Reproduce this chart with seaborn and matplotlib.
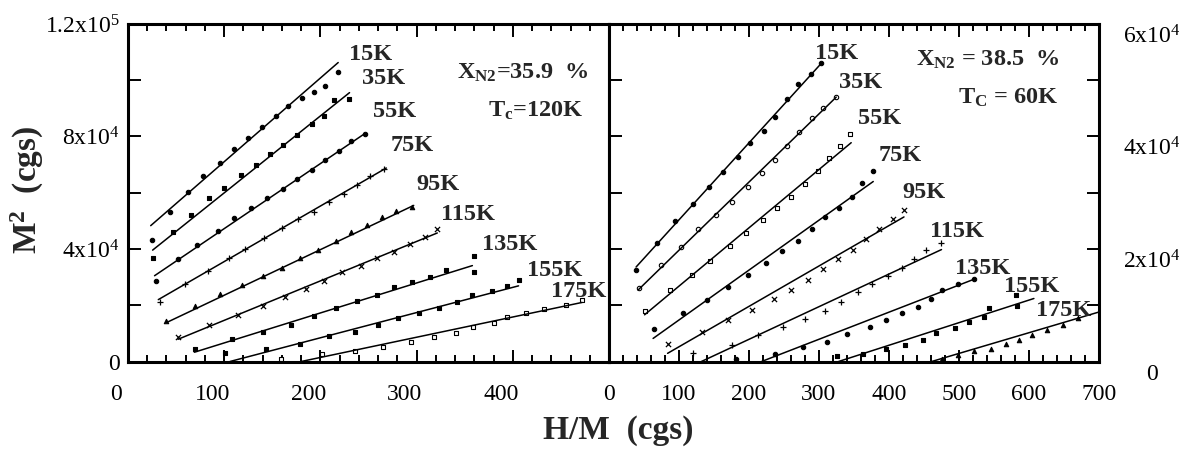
import matplotlib
matplotlib.use("Agg")
import matplotlib.pyplot as plt
import matplotlib.transforms as mtransforms
from matplotlib.ticker import FixedLocator, MultipleLocator
import seaborn as sns

# Temperatures of the isotherms (same set in both panels)
temps = ["15K", "35K", "55K", "75K", "95K", "115K", "135K", "155K", "175K"]

# Left panel, x_N2 = 35.9 %  -> H/M (cgs), M^2 (cgs)
left_x = [
    [24.8, 43.3, 62.2, 78, 95.3, 110, 124.8, 139.8, 153.5, 166, 181, 193, 204.7, 218.5],
    [25.6, 46.5, 65.7, 83.9, 100, 117, 132.7, 147.6, 161, 176, 191, 203.5, 214.6, 229.5],
    [29.5, 52, 72, 93.3, 110, 128, 144.5, 161, 176, 191, 205, 219, 231.5, 246],
    [33.5, 59, 82.7, 105, 122, 141.7, 160.6, 177, 193.7, 209.4, 224.4, 238, 252, 265.7],
    [40, 70, 95.7, 118, 140, 160.6, 179, 197.6, 215.7, 231.5, 248, 263.8, 278.7, 295],
    [52, 84.6, 114, 140, 163, 185, 204, 222.8, 242, 259, 276.5, 292.7, 309, 321.5],
    [70, 108, 140, 169, 193, 216, 238, 259, 276.5, 295.6, 313.6, 330.3, 359.7, 359.7],
    [101, 143, 179, 209, 235.6, 260, 281, 303, 323, 342, 357.6, 378, 394, 406.4],
    [159, 202, 236, 265, 294, 318, 340.6, 358.6, 380.5, 394, 413.7, 432.4, 455, 472],
]
left_y = [
    [43200, 53100, 60200, 66000, 70700, 75600, 79400, 83300, 87200, 91000, 93700, 95900, 98100, 103000],
    [36900, 46200, 52100, 58100, 61600, 66400, 70000, 73900, 77100, 80700, 84500, 87200, 92800, 93500],
    [28600, 36400, 41600, 46400, 50900, 54500, 58100, 61400, 65000, 68200, 71800, 74700, 78500, 80900],
    [21200, 27400, 32100, 36700, 40000, 43800, 47400, 50700, 53300, 56600, 59500, 62800, 65800, 68500],
    [14300, 19800, 23900, 27200, 30500, 33100, 36700, 39600, 42800, 46200, 48600, 51200, 53600, 55100],
    [8600, 13100, 16400, 19800, 23000, 25700, 28800, 31700, 34100, 36800, 39100, 41800, 44300, 47100],
    [4300, 7900, 10500, 12900, 16200, 19000, 21600, 23700, 26400, 28200, 30200, 32600, 32000, 37600],
    [3100, 4300, 6300, 9100, 10600, 13000, 15400, 17200, 19000, 21000, 23700, 25200, 26900, 29000],
    [900, 2700, 3800, 5300, 7100, 8700, 10300, 12100, 13800, 15900, 17400, 18800, 20100, 21900],
]
left_fit_x = [[23.6, 218.5], [25.6, 230.3], [27.6, 246], [31.5, 268.5], [41, 297],
              [52, 321.5], [69, 358], [106, 406], [180, 472]]
left_fit_y = [[48300, 106300], [39600, 95600], [30500, 81000], [22000, 68800], [14000, 55500],
              [7900, 45700], [3300, 34100], [0, 26900], [0, 21000]]

# Right panel, x_N2 = 38.5 %
right_x = [
    [38.7, 68.4, 94.9, 119.5, 143, 163.5, 183.7, 202, 221, 237.5, 254, 270.5, 288.6, 303.5],
    [42.6, 74.5, 103, 127.7, 152.4, 176, 198, 218.4, 237.6, 254, 272, 289.7, 306, 324.6],
    [51.9, 86.5, 118.4, 144, 172.6, 196.3, 220, 240, 260.6, 279.3, 298, 314.5, 330, 344.6],
    [64.5, 105.7, 140, 170.5, 198, 224, 247, 269.4, 289.7, 309, 328, 347, 362, 377.5],
    [83.7, 133, 170.5, 204.7, 235, 259.7, 284, 305.6, 327, 348.6, 367.7, 385.5, 406, 421.8],
    [120, 175, 213, 249, 280, 308, 332, 355, 376, 398, 419, 436, 453, 474.5],
    [181.6, 236.5, 277, 312, 340.5, 372.6, 395, 418, 441, 460, 475.5, 498.3, 522],
    [326, 363, 395, 422.8, 449, 466.8, 494.5, 513.6, 535, 543, 583, 581.5],
    [475.4, 498.3, 522, 546, 567, 585.4, 604.5, 626, 648.5, 670.5],
]
right_y = [
    [16200, 21000, 25000, 28000, 31000, 33600, 36400, 38800, 41000, 43500, 46600, 49400, 51100, 53000],
    [13000, 17200, 20400, 23500, 26000, 28400, 31100, 33500, 35800, 38300, 40800, 43200, 45000, 47000],
    [9000, 12700, 15400, 17900, 20500, 22800, 25200, 27200, 29300, 31600, 33800, 36100, 38300, 40400],
    [5700, 8600, 10900, 13300, 15400, 17500, 19600, 21500, 23500, 25600, 27200, 29300, 31700, 33800],
    [3100, 5300, 7300, 9200, 11100, 12800, 14500, 16400, 18300, 19900, 21700, 23500, 25300, 26900],
    [1600, 2900, 4700, 6200, 7500, 8900, 10600, 12400, 13700, 15200, 16600, 18300, 19900, 21100],
    [400, 1400, 2600, 3500, 4900, 6100, 7300, 8600, 9700, 11200, 12800, 13800, 14600],
    [900, 1300, 2200, 2900, 3800, 5000, 5900, 7100, 8000, 9600, 9900, 11800],
    [400, 1150, 1900, 2300, 3100, 3900, 4700, 5600, 6500, 7700],
]
right_fit_x = [[38.7, 304], [41.5, 324.6], [50.8, 346], [63, 377.5], [83.7, 421.4],
               [132, 475], [218, 523], [328, 607], [461, 700]]
right_fit_y = [[16800, 53100], [12700, 47000], [8300, 38900], [4100, 32000], [1450, 25700],
               [0, 19900], [0, 14700], [0, 11200], [0, 8800]]

# Where the temperature labels sit (data coordinates)
left_lab_x = [252, 266, 277.6, 295, 322, 353.5, 397, 443, 468]
left_lab_y = [109000, 100700, 89000, 76900, 63000, 52400, 41600, 32400, 24800]
right_lab_x = [325, 359.5, 387, 416, 450.6, 496.7, 534, 604, 649.5]
right_lab_y = [54800, 49600, 43200, 36700, 30000, 23100, 16600, 13300, 9150]

left_markers = ["o", "s", "o", "+", "^", "x", "s", "s", "s"]
left_filled = [True, True, True, True, True, True, True, True, False]
right_markers = ["o", "o", "s", "o", "x", "+", "o", "s", "^"]
right_filled = [True, False, False, True, True, True, True, True, True]

sns.set_theme(style="ticks")
plt.rcParams["font.family"] = ["Liberation Serif", "DejaVu Serif"]
plt.rcParams["mathtext.fontset"] = "custom"
plt.rcParams["mathtext.rm"] = "Liberation Serif"
plt.rcParams["mathtext.bf"] = "Liberation Serif:bold"
plt.rcParams["mathtext.it"] = "Liberation Serif:italic"

W, H = 1189, 451
fig = plt.figure(figsize=(W / 100, H / 100), dpi=100)
ax1 = fig.add_axes([128 / W, 1 - 361.5 / H, 481 / W, 337.5 / H])
ax2 = fig.add_axes([609 / W, 1 - 361.5 / H, 490 / W, 337.5 / H])


def draw_panel(ax, xs, ys, fx, fy, markers, filled):
    for i in range(len(xs)):
        sns.lineplot(x=fx[i], y=fy[i], color="black", lw=1.1, sort=False,
                     estimator=None, ax=ax)
        m = markers[i]
        if m in ("x", "+"):
            sns.scatterplot(x=xs[i], y=ys[i], marker=m, s=14, color="black",
                            linewidth=0.9, ax=ax)
        else:
            sns.scatterplot(x=xs[i], y=ys[i], marker=m, s=10,
                            facecolor="black" if filled[i] else "white",
                            edgecolor="black", linewidth=0.8, ax=ax)


draw_panel(ax1, left_x, left_y, left_fit_x, left_fit_y, left_markers, left_filled)
draw_panel(ax2, right_x, right_y, right_fit_x, right_fit_y, right_markers, right_filled)

for i, t in enumerate(temps):
    ax1.text(left_lab_x[i], left_lab_y[i], t, fontsize=17.5, fontweight="bold",
             ha="center", va="center", clip_on=False)
    ax2.text(right_lab_x[i], right_lab_y[i], t, fontsize=17.5, fontweight="bold",
             ha="center", va="center", clip_on=False)

ax1.text(342, 102700, r"X$_{\mathbf{N2}}$=35.9  %", fontsize=17.5, fontweight="bold",
         ha="left", va="center")
ax1.text(374, 89000, r"T$_{\mathbf{c}}$=120K", fontsize=17.5, fontweight="bold",
         ha="left", va="center")
ax2.text(438, 53600, r"X$_{\mathbf{N2}}$ = 38.5  %", fontsize=17.5, fontweight="bold",
         ha="left", va="center")
ax2.text(498.5, 46800, r"T$_{\mathbf{C}}$ = 60K", fontsize=17.5, fontweight="bold",
         ha="left", va="center")

# axes, ticks
ax1.set_xlim(0, 500)
ax1.set_ylim(0, 1.2e5)
ax2.set_xlim(0, 700)
ax2.set_ylim(0, 6e4)

ax1.xaxis.set_major_locator(FixedLocator([0, 100, 200, 300, 400]))
ax1.xaxis.set_minor_locator(MultipleLocator(20))
ax1.yaxis.set_major_locator(FixedLocator([0, 4e4, 8e4, 1.2e5]))
ax1.yaxis.set_minor_locator(FixedLocator([2e4, 6e4, 1e5]))
ax1.set_yticklabels(["0", r"4x10$^4$", r"8x10$^4$", r"1.2x10$^5$"])
ax1.set_xticklabels(["0", "100", "200", "300", "400"])

ax2.xaxis.set_major_locator(FixedLocator(list(range(0, 800, 100))))
ax2.xaxis.set_minor_locator(MultipleLocator(20))
ax2.yaxis.set_major_locator(FixedLocator([0, 2e4, 4e4, 6e4]))
ax2.yaxis.set_minor_locator(MultipleLocator(1e4))
ax2.set_yticklabels(["0", r"2x10$^4$", r"4x10$^4$", r"6x10$^4$"])
ax2.set_xticklabels([str(v) for v in range(0, 800, 100)])

for ax in (ax1, ax2):
    ax.set_xlabel("")
    ax.set_ylabel("")
    for sp in ax.spines.values():
        sp.set_visible(True)
        sp.set_linewidth(2.2)
        sp.set_color("black")
    ax.tick_params(which="both", direction="in", colors="black", width=1.4,
                   top=True, bottom=True, labelsize=17, pad=16)
    ax.tick_params(axis="y", pad=6)
    ax.tick_params(which="major", length=9)
    ax.tick_params(which="minor", length=5)

ax1.tick_params(axis="y", which="both", left=True, right=False)
ax1.tick_params(axis="y", which="minor", length=9)
ax2.tick_params(axis="y", which="both", left=True, right=True,
                labelleft=False, labelright=True)
ax2.tick_params(axis="y", which="minor", length=9)
ax2.tick_params(axis="y", pad=38)

shift_left = mtransforms.ScaledTranslation(-0.12, 0, fig.dpi_scale_trans)
for lab in ax1.get_xticklabels():
    lab.set_transform(lab.get_transform() + shift_left)
shift_down = mtransforms.ScaledTranslation(0, -0.10, fig.dpi_scale_trans)
for lab in ax2.get_yticklabels():
    lab.set_horizontalalignment("center")
    lab.set_transform(lab.get_transform() + shift_down)

fig.text(27 / W, 1 - 190 / H, r"M$^{\mathbf{2}}$  (cgs)", rotation=90, fontsize=24,
         fontweight="bold", ha="center", va="center")
fig.text(618 / W, 1 - 430 / H, "H/M  (cgs)", fontsize=24, fontweight="bold",
         ha="center", va="center")

fig.savefig("out.png", dpi=100, facecolor="white")
